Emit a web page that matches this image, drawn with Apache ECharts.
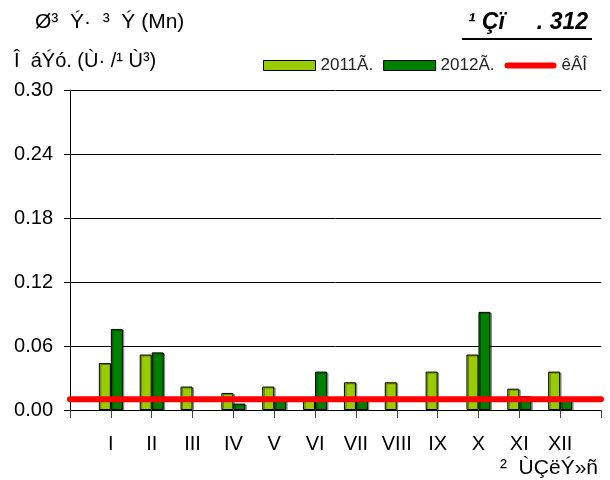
<!DOCTYPE html>
<html>
<head>
<meta charset="utf-8">
<script src="https://cdn.jsdelivr.net/npm/echarts@6/dist/echarts.min.js"></script>
<style>
  html, body { margin: 0; padding: 0; background: #fff; }
  #chart { width: 610px; height: 480px; }
</style>
</head>
<body>
<div id="chart"></div>
<script>
// Months (Roman numerals) along the category axis
const months = ['I', 'II', 'III', 'IV', 'V', 'VI', 'VII', 'VIII', 'IX', 'X', 'XI', 'XII'];
// Concentrations per month, mg/dm3
const values2011 = [0.044, 0.052, 0.022, 0.016, 0.022, 0.010, 0.026, 0.026, 0.036, 0.052, 0.020, 0.036];
const values2012 = [0.076, 0.054, null, 0.006, 0.010, 0.036, 0.010, null, null, 0.092, 0.013, 0.010];
// Limit line (one value per axis point, including the padded ends)
const macValues = [0.01, 0.01, 0.01, 0.01, 0.01, 0.01, 0.01, 0.01, 0.01, 0.01, 0.01, 0.01, 0.01, 0.01];
// Value-axis ticks
const yMin = 0, yMax = 0.30, yStep = 0.06;

const seriesNames = ['2011Ã.', '2012Ã.', 'êÂÎ'];
const FONT = '"Liberation Sans", Arial, sans-serif';

// the axis is padded with an empty slot at each end so bars sit on the tick marks
const categories = [''].concat(months, ['']);
const pad = arr => [null].concat(arr, [null]);

const barShadow = { shadowColor: 'rgba(0,0,0,0.35)', shadowOffsetX: 1.5, shadowOffsetY: 1, shadowBlur: 0 };

const chart = echarts.init(document.getElementById('chart'), null, { renderer: 'canvas' });

chart.setOption({
  backgroundColor: '#ffffff',
  animation: false,
  textStyle: { fontFamily: FONT },
  grid: { left: 70, right: 9, top: 90, bottom: 70, containLabel: false },
  legend: {
    left: 263,
    top: 57,
    padding: 0,
    itemWidth: 52,
    itemHeight: 10,
    itemGap: 10,
    symbolKeepAspect: true,
    textStyle: { fontSize: 17, color: '#222', fontFamily: FONT },
    data: [
      { name: seriesNames[0], icon: 'rect', itemStyle: { borderColor: '#000', borderWidth: 1 } },
      { name: seriesNames[1], icon: 'rect', itemStyle: { borderColor: '#000', borderWidth: 1 } },
      {
        name: seriesNames[2],
        icon: 'path://M3,0 L49,0 A3,3 0 0 1 49,6 L3,6 A3,3 0 0 1 3,0 Z',
        itemStyle: { color: '#FF0000', borderWidth: 0 }
      }
    ]
  },
  xAxis: {
    type: 'category',
    data: categories,
    boundaryGap: false,
    axisLine: { lineStyle: { color: '#000', width: 1 } },
    axisTick: { show: true, length: 8, interval: 0, lineStyle: { color: '#444' } },
    axisLabel: { interval: 0, margin: 24, fontSize: 20, color: '#000', fontFamily: FONT },
    splitLine: { show: false }
  },
  yAxis: {
    type: 'value',
    min: yMin,
    max: yMax,
    interval: yStep,
    axisLine: { show: true, lineStyle: { color: '#000', width: 1 } },
    axisTick: { show: true, length: 6, lineStyle: { color: '#000' } },
    axisLabel: {
      fontSize: 20, color: '#000', margin: 17, fontFamily: FONT,
      formatter: v => v.toFixed(2)
    },
    splitLine: { show: true, lineStyle: { color: '#000', width: 1 } }
  },
  series: [
    {
      name: seriesNames[0],
      type: 'bar',
      data: pad(values2011),
      barWidth: 12,
      barGap: '0%',
      itemStyle: Object.assign({ color: '#99CC00', borderColor: '#000', borderWidth: 1 }, barShadow),
      z: 2
    },
    {
      name: seriesNames[1],
      type: 'bar',
      data: pad(values2012),
      barWidth: 12,
      barGap: '0%',
      itemStyle: Object.assign({ color: '#008000', borderColor: '#000', borderWidth: 1 }, barShadow),
      z: 2
    },
    {
      name: seriesNames[2],
      type: 'line',
      data: macValues,
      symbol: 'none',
      showSymbol: false,
      lineStyle: { color: '#FF0000', width: 6, cap: 'round' },
      itemStyle: { color: '#FF0000' },
      z: 5
    }
  ],
  graphic: [
    {
      type: 'text', left: 35, top: 12,
      style: { text: 'Ø³  Ý·  ³  Ý (Mn)', font: '21px ' + FONT, fill: '#000' }
    },
    {
      type: 'text', left: 14, top: 51,
      style: { text: 'Î  áÝó. (Ù· /¹ Ù³)', font: '20px ' + FONT, fill: '#000' }
    },
    {
      type: 'text', right: 22, top: 11,
      style: { text: '¹ Çï     . 312', font: 'italic bold 23px ' + FONT, fill: '#000' }
    },
    {
      type: 'line',
      shape: { x1: 462, y1: 39, x2: 592, y2: 39 },
      style: { stroke: '#000', lineWidth: 2 }
    },
    {
      type: 'text', right: 12, top: 458,
      style: { text: '²  ÙÇëÝ»ñ', font: '21px ' + FONT, fill: '#000' }
    }
  ]
});
</script>
</body>
</html>
